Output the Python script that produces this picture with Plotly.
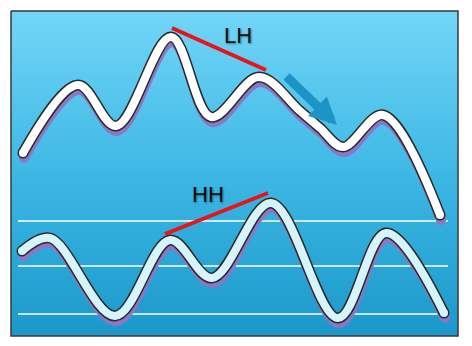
import plotly.graph_objects as go

# ---- data (x = time, y = value) ----
price_x = [23, 78, 116, 171, 211, 259, 300, 320, 343, 383, 440]
price_y = [193, 261, 220, 309, 229, 269, 235, 218, 199, 231, 131]

osc_x = [22, 50, 115, 170, 212, 271, 338, 386, 444]
osc_y = [95, 108, 30, 106, 68, 143, 28, 113, 33]

osc_levels = [125, 80, 32]

lh_x = [172, 266]
lh_y = [318, 276]
hh_x = [165, 268]
hh_y = [112, 153]

arrow_tail = (285, 271)
arrow_head = (337, 221)

labels = ["LH", "HH"]
label_x = [238, 208]
label_y = [311, 152]

W, H = 472, 346
fig = go.Figure()

# background panel with vertical gradient
fig.add_trace(go.Scatter(
    x=[11, 458, 458, 11, 11], y=[335, 335, 10, 10, 335],
    mode="lines", fill="toself",
    line=dict(color="#3a3a3a", width=1.5),
    fillgradient=dict(type="vertical",
                      colorscale=[[0, "#1b98ca"], [0.5, "#3db8e5"], [1, "#72d6f7"]]),
    hoverinfo="skip", showlegend=False))

# oscillator reference levels
for lv in osc_levels:
    fig.add_trace(go.Scatter(x=[18, 448], y=[lv, lv], mode="lines",
                             line=dict(color="white", width=1.5),
                             hoverinfo="skip", showlegend=False))


def layer(xs, ys, color, w):
    fig.add_trace(go.Scatter(x=xs, y=ys, mode="lines",
                             line=dict(color=color, width=w, shape="spline", smoothing=1),
                             hoverinfo="skip", showlegend=False))
    # rounded caps
    fig.add_trace(go.Scatter(x=[xs[0], xs[-1]], y=[ys[0], ys[-1]], mode="markers",
                             marker=dict(color=color, size=w, line=dict(width=0)),
                             hoverinfo="skip", showlegend=False))


def fancy_line(xs, ys, fill_color, w):
    layer([v + 1 for v in xs], [v - 5 for v in ys], "#8a78c6", w + 2)
    layer(xs, ys, "#2a2a2a", w + 3)
    layer(xs, ys, fill_color, w)


fancy_line(price_x, price_y, "#ffffff", 8)
fancy_line(osc_x, osc_y, "#d6f5fb", 8)

# divergence lines
for xs, ys in [(lh_x, lh_y), (hh_x, hh_y)]:
    fig.add_trace(go.Scatter(x=xs, y=ys, mode="lines",
                             line=dict(color="#e8141c", width=4),
                             hoverinfo="skip", showlegend=False))

# labels
for t, lx, ly in zip(labels, label_x, label_y):
    fig.add_annotation(x=lx, y=ly, text=t, showarrow=False,
                       font=dict(family="Liberation Sans, Arial", size=22, color="#111111",
                                 shadow="1px 1px 2px rgba(0,0,0,0.45)"))

# trend arrow
fig.add_annotation(x=arrow_head[0], y=arrow_head[1], ax=arrow_tail[0], ay=arrow_tail[1],
                   xref="x", yref="y", axref="x", ayref="y", text="",
                   showarrow=True, arrowhead=2, arrowsize=0.6, arrowwidth=9,
                   arrowcolor="#1e94c4")

fig.update_layout(
    width=W, height=H, margin=dict(l=0, r=0, t=0, b=0),
    paper_bgcolor="white", plot_bgcolor="white",
    xaxis=dict(range=[0, W], visible=False, fixedrange=True),
    yaxis=dict(range=[0, H], visible=False, fixedrange=True),
    showlegend=False)

fig.write_html("out.html")
